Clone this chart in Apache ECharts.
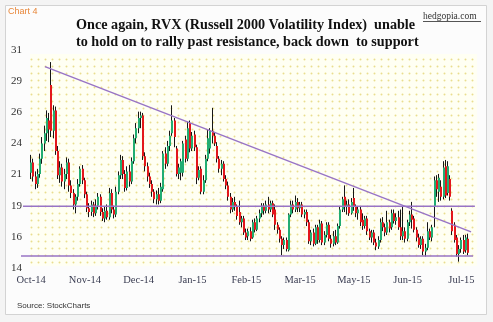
<!DOCTYPE html>
<html>
<head>
<meta charset="utf-8">
<script src="https://cdn.jsdelivr.net/npm/echarts@6/dist/echarts.min.js"></script>
<style>
  html, body { margin: 0; padding: 0; background: #f4f4f4; }
  #chart { width: 493px; height: 322px; }
</style>
</head>
<body>
<div id="chart"></div>
<script>
// RVX daily candles, Oct 2014 - Jul 2015 (one entry per trading day)
const opens = [
  21.5,22.3,21.2,20.6,21.4,22.6,23.8,24.6,25.6,28.4, 24.8,26.4,23.2,21.3,21.9,20.8,21.4,22.3,20.5,19.9,
  19.0,19.6,20.6,21.8,20.9,19.8,18.7,18.4,19.0,18.3, 18.9,19.6,18.4,17.9,18.5,18.0,19.9,18.6,18.2,20.0,
  21.3,22.5,21.4,20.3,21.6,20.8,22.4,24.2,25.0,25.8, 26.0,22.8,22.0,21.2,20.6,20.0,19.4,19.8,19.3,20.2,
  23.0,22.2,23.6,24.6,25.6,23.4,21.4,21.5,21.5,24.1, 22.6,25.4,23.4,24.5,23.5,21.1,21.8,20.0,20.9,22.6,
  23.4,24.8,24.4,23.6,22.6,21.8,22.2,21.0,20.5,19.6, 18.6,19.2,18.8,18.4,17.6,17.9,16.8,16.5,16.9,16.4,
  17.6,17.0,17.9,18.3,18.9,18.5,19.0,18.6,19.1,18.6, 17.4,17.0,16.3,15.8,16.2,15.4,18.2,19.0,18.6,19.2,
  18.7,19.0,18.2,18.4,17.6,16.1,16.8,15.9,17.2,16.2, 17.5,16.0,16.6,17.4,16.3,15.9,16.5,16.0,17.3,18.6,
  19.6,18.8,19.0,18.3,19.5,18.8,18.3,18.6,17.8,17.3, 17.9,16.9,16.4,16.8,16.0,15.7,16.2,17.6,17.2,16.8,
  17.6,17.2,18.3,17.7,18.0,17.2,16.5,16.9,16.3,17.6, 18.2,17.9,17.0,16.4,15.8,16.3,15.3,15.6,16.9,16.4,
  18.8,20.9,20.0,20.4,19.6,22.0,19.9,21.0,18.5,17.4, 16.4,15.1,15.5,16.2,15.4,16.3
];
const closes = [
  22.3,21.2,20.6,21.4,22.6,23.8,24.6,25.8,24.9,24.8, 26.4,23.2,21.3,21.9,20.8,21.4,22.3,20.5,19.9,19.0,
  19.6,20.6,21.8,20.9,19.8,18.7,18.4,19.0,18.3,18.9, 19.6,18.4,17.9,18.5,18.0,19.9,18.6,18.2,20.0,21.3,
  22.5,21.4,20.3,21.6,20.8,22.4,24.2,25.0,25.8,26.0, 22.8,22.0,21.2,20.6,20.0,19.4,19.8,19.3,20.4,23.0,
  22.2,23.6,24.4,25.6,24.3,21.4,21.9,22.4,23.8,22.6, 25.0,23.4,24.4,23.5,21.1,21.7,20.0,20.9,22.6,24.2,
  24.8,24.4,23.8,22.6,21.8,22.2,21.0,20.5,19.6,18.6, 19.2,18.8,18.1,17.6,17.9,16.8,16.4,16.9,16.3,17.6,
  17.0,17.9,18.3,18.9,18.5,19.0,18.6,19.1,18.2,17.4, 17.0,16.3,15.8,16.2,15.5,18.2,19.0,18.6,19.2,18.7,
  19.0,18.2,18.4,17.6,16.1,16.8,15.9,17.2,16.2,17.5, 16.0,16.6,17.4,16.3,15.9,16.5,16.0,17.3,18.6,19.4,
  18.8,19.0,18.3,19.2,18.8,18.3,18.6,17.6,17.3,17.9, 16.9,16.4,16.8,16.0,15.7,16.2,17.6,17.2,16.8,17.6,
  17.1,18.3,17.7,18.0,17.2,16.5,16.9,16.3,17.6,18.2, 17.8,17.0,16.4,15.8,16.3,15.3,15.6,16.9,16.4,17.2,
  20.9,20.2,21.1,19.6,21.9,19.7,22.0,19.6,16.9,16.2, 15.1,15.5,16.2,15.3,16.4,15.2
];
const lows = [
  21.0,20.8,20.2,20.3,21.1,22.2,23.2,24.0,23.9,24.3, 24.2,22.9,21.0,20.7,20.4,20.2,21.0,20.0,19.5,18.6,
  18.3,19.3,20.4,20.6,19.5,18.4,18.0,18.1,18.0,18.1, 18.6,18.1,17.7,17.6,17.8,17.8,18.3,17.9,18.0,19.8,
  21.0,21.0,20.0,20.1,20.4,20.6,22.2,23.8,24.6,25.0, 22.5,21.6,20.8,20.3,19.6,19.1,19.0,19.0,19.1,20.0,
  21.8,22.0,23.2,24.4,23.5,21.2,21.0,20.9,21.2,22.3, 22.4,23.1,23.2,23.2,20.6,20.9,19.8,19.8,20.7,22.4,
  23.0,23.8,23.6,22.3,21.5,21.3,20.8,20.2,19.3,18.3, 18.4,18.5,17.8,17.4,17.2,16.6,16.2,16.2,16.1,16.3,
  16.8,16.9,17.6,18.0,18.2,18.3,18.3,18.4,18.0,17.0, 16.7,16.0,15.0,15.5,15.3,15.3,18.0,18.3,18.4,18.4,
  18.4,18.0,17.9,17.3,15.9,15.8,15.7,15.8,15.9,16.0, 15.8,15.8,16.4,16.1,15.6,15.7,15.8,15.9,17.1,18.4,
  18.4,18.2,18.1,18.2,18.5,18.0,17.8,17.3,17.0,17.1, 16.6,16.2,16.0,15.8,15.4,15.5,16.0,16.9,16.5,16.6,
  16.8,17.0,17.5,17.4,17.0,16.2,16.2,16.0,16.1,17.3, 17.1,16.8,16.1,15.6,15.5,15.0,14.9,15.4,16.2,16.1,
  17.2,19.6,19.2,19.3,19.4,19.5,19.7,19.3,16.6,16.0, 14.9,14.5,15.2,15.1,15.2,15.0
];
const highs = [
  22.9,22.6,21.6,21.8,23.0,24.3,25.2,26.4,26.2,30.2, 26.8,26.7,23.6,22.4,22.2,21.8,22.7,22.6,20.9,20.2,
  19.8,21.0,22.0,22.1,21.1,20.0,19.1,19.3,19.2,19.4, 19.9,19.8,18.7,18.8,19.0,20.3,20.2,18.9,20.4,21.6,
  22.9,22.8,21.7,22.0,22.1,22.7,24.5,25.4,26.3,26.3, 26.2,23.1,22.3,21.5,20.9,20.2,20.1,20.3,20.7,23.2,
  23.5,24.0,24.8,26.8,25.8,23.6,22.2,22.6,24.0,24.4, 25.5,25.6,24.7,24.8,23.7,22.0,22.0,21.3,22.9,24.9,
  25.0,26.6,24.7,23.9,22.8,22.5,22.4,21.3,20.8,19.9, 19.5,19.6,19.0,19.3,18.1,18.1,17.1,17.1,17.2,17.8,
  17.9,18.1,18.6,19.1,19.1,19.3,19.6,19.3,19.3,19.0, 17.6,17.2,16.5,16.4,16.4,18.3,19.3,19.3,19.7,19.5,
  19.2,19.2,18.6,18.6,17.8,17.0,17.1,17.4,17.4,17.8, 17.7,16.9,17.6,17.6,16.6,16.9,17.0,17.5,18.8,19.6,
  20.5,19.3,19.4,19.5,20.3,19.0,18.8,18.8,18.3,18.1, 18.1,17.1,17.0,17.0,16.3,16.5,17.9,18.0,17.5,18.5,
  17.8,18.6,18.6,18.3,18.5,18.6,18.8,17.2,17.8,18.5, 19.2,18.1,17.2,16.7,16.5,16.5,15.9,17.6,17.1,17.4,
  21.2,21.3,21.4,20.9,22.4,22.5,22.4,21.3,18.7,17.6, 16.6,15.8,16.4,16.6,16.6,16.7
];

// Month labels sit every 24 trading days
const monthLabels = ['Oct-14','Nov-14','Dec-14','Jan-15','Feb-15','Mar-15','May-15','Jun-15','Jul-15'];
const monthLabelDays = [0, 24, 48, 72, 96, 120, 144, 168, 192];

// Value-axis ticks and their printed (rounded) labels
const yTickValues = [14, 16.45, 18.9, 21.35, 23.8, 26.25, 28.7, 31.15];
const yTickLabels = ['14', '16', '19', '21', '24', '26', '29', '31'];

// Resistance, support and the falling trendline (day index, level)
const resistanceLine = [[-3.6, 18.85], [198, 18.85]];
const supportLine = [[-4.5, 14.95], [197.2, 14.95]];
const trendLine = [[6.2, 29.84], [196.3, 16.84]];

const candles = opens.map((o, i) => [i, o, closes[i], lows[i], highs[i]]);

// Dotted cream fill used behind the plot
const tile = document.createElement('canvas');
tile.width = 7; tile.height = 7;
const tctx = tile.getContext('2d');
tctx.fillStyle = '#fffff3';
tctx.fillRect(0, 0, 7, 7);
tctx.fillStyle = '#e9dd8e';
tctx.beginPath();
tctx.arc(3.5, 3.5, 1.0, 0, Math.PI * 2);
tctx.fill();

const UP = '#22ad72', DOWN = '#e3171c', WICK = '#161616', LINE = '#9874c6';

const chart = echarts.init(document.getElementById('chart'), null, { renderer: 'canvas' });

chart.setOption({
  animation: false,
  backgroundColor: '#f4f4f4',
  grid: { left: 21, right: 17, top: 50, bottom: 54 },
  xAxis: {
    type: 'value',
    min: -4.5,
    max: 198.5,
    axisLine: { show: false },
    axisTick: { show: false },
    splitLine: { show: false },
    axisLabel: {
      customValues: monthLabelDays,
      formatter: v => monthLabels[monthLabelDays.indexOf(v)] || '',
      margin: 7,
      fontFamily: 'Liberation Serif',
      fontSize: 10.5,
      color: '#3a3d52'
    }
  },
  yAxis: {
    type: 'value',
    min: 14,
    max: 31.15,
    offset: -9,
    axisLine: { show: false },
    axisTick: { show: false },
    splitLine: { show: false },
    axisLabel: {
      customValues: yTickValues,
      formatter: v => {
        const k = yTickValues.findIndex(t => Math.abs(t - v) < 0.01);
        return k >= 0 ? yTickLabels[k] : '';
      },
      margin: 8,
      fontFamily: 'Liberation Serif',
      fontSize: 11,
      color: '#333333'
    }
  },
  graphic: [
    { type: 'rect', z: -10, silent: true,
      shape: { x: 5.5, y: 5.5, width: 481, height: 309 },
      style: { fill: '#fcfcfc', stroke: '#d3d3d3', lineWidth: 1 } },
    { type: 'rect', z: -5, silent: true,
      shape: { x: 30, y: 54, width: 447, height: 212 },
      style: { fill: { image: tile, repeat: 'repeat' } } },
    { type: 'text', left: 8, top: 7, silent: true,
      style: { text: 'Chart 4', font: '9px "Liberation Sans"', fill: '#e8873a' } },
    { type: 'text', left: 76, top: 18, silent: true,
      style: { text: 'Once again, RVX (Russell 2000 Volatility Index)  unable',
               font: 'bold 14.2px "Liberation Serif"', fill: '#111111' } },
    { type: 'text', left: 76, top: 35, silent: true,
      style: { text: 'to hold on to rally past resistance, back down  to support',
               font: 'bold 14.2px "Liberation Serif"', fill: '#111111' } },
    { type: 'text', left: 423, top: 11, silent: true,
      style: { text: 'hedgopia.com', font: '9.5px "Liberation Serif"', fill: '#333333' } },
    { type: 'line', silent: true,
      shape: { x1: 423, y1: 21.5, x2: 481, y2: 21.5 },
      style: { stroke: '#555555', lineWidth: 1 } },
    { type: 'text', left: 17, top: 302, silent: true,
      style: { text: 'Source: StockCharts', font: '8px "Liberation Sans"', fill: '#333333' } }
  ],
  series: [
    {
      type: 'custom',
      name: 'RVX',
      data: candles,
      encode: { x: 0, y: [1, 2, 3, 4] },
      z: 2,
      renderItem: (params, api) => {
        const i = api.value(0);
        const o = api.value(1), c = api.value(2), l = api.value(3), h = api.value(4);
        const pO = api.coord([i, o]);
        const pC = api.coord([i, c]);
        const pL = api.coord([i, l]);
        const pH = api.coord([i, h]);
        const bx = Math.round(pO[0] - 1);
        const top = Math.min(pO[1], pC[1]);
        const bh = Math.max(Math.abs(pO[1] - pC[1]), 1);
        return {
          type: 'group',
          children: [
            { type: 'line',
              shape: { x1: bx + 0.5, y1: pH[1], x2: bx + 0.5, y2: pL[1] },
              style: { stroke: WICK, lineWidth: 1 } },
            { type: 'rect',
              shape: { x: bx, y: top, width: 2, height: bh },
              style: { fill: c >= o ? UP : DOWN } }
          ]
        };
      }
    },
    { type: 'line', data: resistanceLine, symbol: 'none', silent: true, z: 3,
      lineStyle: { color: LINE, width: 1.5 } },
    { type: 'line', data: supportLine, symbol: 'none', silent: true, z: 3,
      lineStyle: { color: LINE, width: 1.5 } },
    { type: 'line', data: trendLine, symbol: 'none', silent: true, z: 3,
      lineStyle: { color: LINE, width: 1.5 } }
  ]
});
</script>
</body>
</html>
